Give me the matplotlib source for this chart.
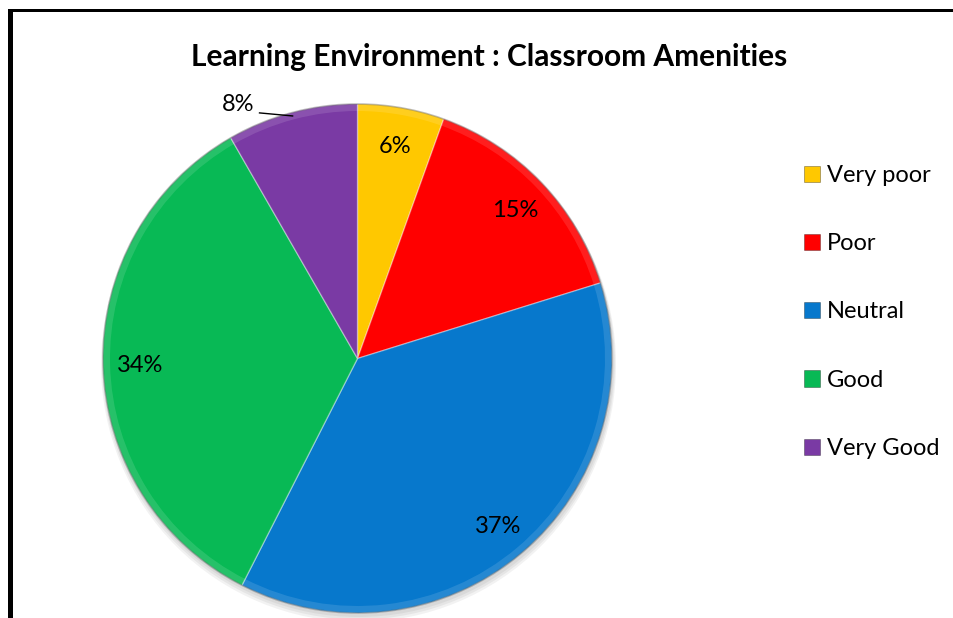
import matplotlib
matplotlib.use("Agg")
import matplotlib.pyplot as plt
from matplotlib.patches import Patch, Rectangle, Wedge
import numpy as np

title = "Learning Environment : Classroom Amenities"
categories = ["Very poor", "Poor", "Neutral", "Good", "Very Good"]
values = [5.5, 14.7, 37.3, 34.2, 8.3]
pct_labels = ["6%", "15%", "37%", "34%", "8%"]
colors = ["#FFC800", "#FF0000", "#0778CC", "#08B955", "#7A3AA4"]

plt.rcParams["font.family"] = ["Lato", "DejaVu Sans"]

W, H = 954, 618
fig = plt.figure(figsize=(W / 100, H / 100), dpi=100)
ax = fig.add_axes([0, 0, 1, 1])

cx, cy, R = 357.5, H - 358.5, 254.5

# soft shadow
for i, a in enumerate([0.05, 0.05, 0.05]):
    ax.add_patch(plt.Circle((cx + 1, cy - 3 - i * 1.5), R + 1 + i, color="black", alpha=a, lw=0))

wedges, texts = ax.pie(
    values, colors=colors, startangle=90, counterclock=False,
    center=(cx, cy), radius=R, frame=True,
    labels=pct_labels, labeldistance=0.855,
    wedgeprops=dict(edgecolor=(1, 1, 1, 0.35), linewidth=1.0),
    textprops=dict(fontsize=17, color="black", ha="center", va="center_baseline"),
)
ax.set_xlim(0, W)
ax.set_ylim(0, H)
ax.set_aspect("equal")
ax.axis("off")

# bevel-like highlight ring along each slice's rim
for w in wedges:
    ax.add_patch(Wedge((cx, cy), R, w.theta1, w.theta2, width=7,
                       facecolor=(1, 1, 1, 0.12), edgecolor="none"))

rim = plt.Circle((cx, cy), R, fill=False, edgecolor=(0, 0, 0, 0.25), linewidth=1.2)
ax.add_patch(rim)

# last slice label placed outside with leader line
last = texts[-1]
last.set_position((cx - 0.47 * R, cy + 1.005 * R))
last.set_ha("center")
ax.plot([cx - 0.385 * R, cx - 0.255 * R], [cy + 0.965 * R, cy + 0.953 * R],
        color="black", linewidth=1.0)

# title
fig.text(489 / W, 1 - 57 / H, title, ha="center", va="center",
         fontsize=21.5, fontweight="bold")

# legend
handles = [Patch(facecolor=c, edgecolor=(0, 0, 0, 0.35), linewidth=0.6) for c in colors]
fig.legend(handles, categories, loc="upper left",
           bbox_to_anchor=(804 / W, 1 - 165 / H),
           frameon=False, fontsize=17, handlelength=0.68, handleheight=0.68,
           handletextpad=0.3, labelspacing=2.0, borderpad=0, borderaxespad=0)

# border lines (top and left)
ax.add_patch(Rectangle((8, H - 12), W - 8, 3, color="black", lw=0))
ax.add_patch(Rectangle((8, 0), 5, H - 9, color="black", lw=0))

fig.savefig("out.png", dpi=100)
